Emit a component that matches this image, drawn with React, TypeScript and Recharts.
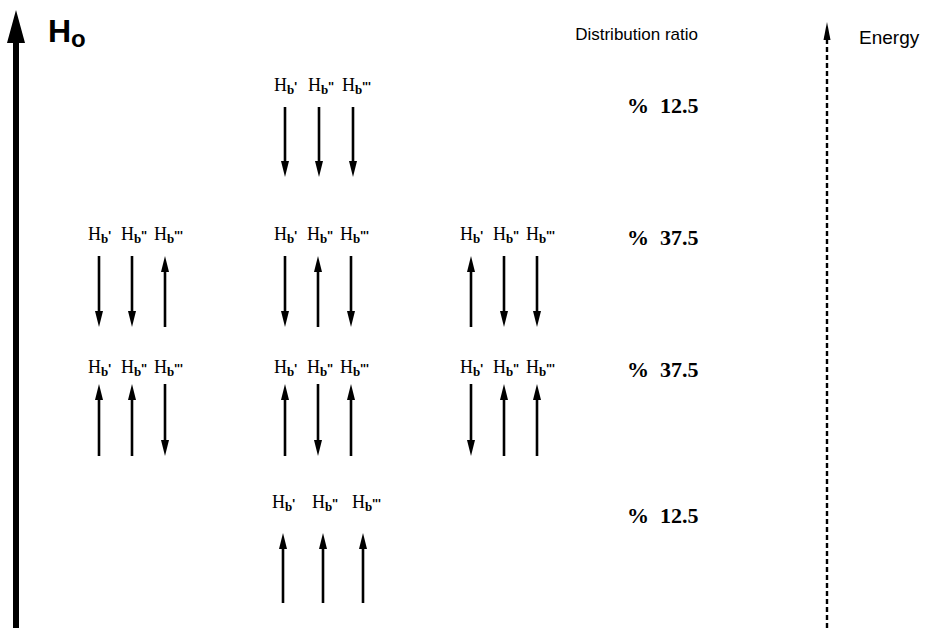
import { ComposedChart, XAxis, YAxis, Scatter, ReferenceLine } from "recharts";

const UP = 1;
const DOWN = -1;

// energy levels, highest first: spin states of H_b', H_b'', H_b''' for each configuration
const levelSpins: number[][][] = [
  [[DOWN, DOWN, DOWN]],
  [[DOWN, DOWN, UP], [DOWN, UP, DOWN], [UP, DOWN, DOWN]],
  [[UP, UP, DOWN], [UP, DOWN, UP], [DOWN, UP, UP]],
  [[UP, UP, UP]],
];
const levelGroups = [[1], [0, 1, 2], [0, 1, 2], [1]];
const ratios = ["% 12.5", "% 37.5", "% 37.5", "% 12.5"];

// diagram coordinates (x across, y down the energy axis)
const groupX = [99, 285, 471];
const levelStep = [34, 33, 33, 40];
const levelLabelY = [91, 240, 373, 508];
const levelTop = [107, 256, 384, 533];
const levelBottom = [177, 327, 456, 603];
const ratioY = [113, 245, 377, 523];
const spinNames = ["'", "''", "'''"];

const W = 931;
const H = 628;

type Arrow = { x: number; tail: number; tip: number };

const arrows: Arrow[] = [];
const hbLabels: { x: number; y: number; primes: string }[] = [];
levelSpins.forEach((configs, li) => {
  configs.forEach((spins, ci) => {
    const g = levelGroups[li][ci];
    const first = li === 3 ? groupX[g] - 2 : groupX[g];
    spins.forEach((s, si) => {
      const x = first + si * levelStep[li];
      arrows.push({
        x,
        tail: s === UP ? levelBottom[li] : levelTop[li],
        tip: s === UP ? levelTop[li] : levelBottom[li],
      });
      hbLabels.push({ x, y: levelLabelY[li], primes: spinNames[si] });
    });
  });
});

const ratioLabels = ratios.map((r, i) => ({ x: 627, y: ratioY[i], text: r }));

const arrowShape = (w: number, head: number, headW: number, dash?: string) => (props: any) => {
  const { x1, y1, x2, y2 } = props;
  const dir = Math.sign(y2 - y1);
  const baseY = y2 - dir * head;
  return (
    <g>
      <line x1={x1} y1={y1} x2={x2} y2={baseY} stroke="#000" strokeWidth={w} strokeDasharray={dash} />
      <polygon points={`${x2},${y2} ${x2 - headW / 2},${baseY} ${x2 + headW / 2},${baseY}`} fill="#000" />
    </g>
  );
};

const smallArrow = arrowShape(2.6, 16, 8);
const bigArrow = arrowShape(6, 33, 18);
const energyArrow = arrowShape(2.4, 18, 7, "5 3");

function HbLabel(props: any) {
  const { cx, cy, payload } = props;
  return (
    <text x={cx - 11} y={cy} fontFamily="'Liberation Serif', serif" fontSize={18} fill="#000">
      H
      <tspan fontFamily="'Liberation Serif', serif" fontWeight="bold" fontSize={13} dy={3}>
        b
      </tspan>
      <tspan fontFamily="'Liberation Sans', sans-serif" fontWeight="bold" fontSize={12} dy={-3}>
        {payload.primes}
      </tspan>
    </text>
  );
}

function RatioLabel(props: any) {
  const { cx, cy, payload } = props;
  return (
    <text x={cx} y={cy} fontFamily="'Liberation Serif', serif" fontWeight="bold" fontSize={22} fill="#000" style={{ whiteSpace: "pre" }}>
      {payload.text.replace(" ", "  ")}
    </text>
  );
}

function Header(props: any) {
  const { cx, cy, payload } = props;
  if (payload.kind === "ho") {
    return (
      <text x={cx} y={cy} fontFamily="'Liberation Sans', sans-serif" fontWeight="bold" fontSize={payload.size} fill="#000">
        H
        <tspan fontSize={24} dy={5}>o</tspan>
      </text>
    );
  }
  return (
    <text x={cx} y={cy} textAnchor={payload.anchor} fontFamily="'Liberation Sans', sans-serif" fontSize={payload.size} fill="#000">
      {payload.text}
    </text>
  );
}

const headers = [
  { x: 48, y: 42, kind: "ho", text: "Ho", anchor: "start", size: 32 },
  { x: 698, y: 40, kind: "text", text: "Distribution ratio", anchor: "end", size: 17 },
  { x: 859, y: 44, kind: "text", text: "Energy", anchor: "start", size: 19 },
];

export default function App() {
  return (
    <div style={{ position: "absolute", left: 0, top: 0, width: W, height: H, background: "#fff" }}>
      <ComposedChart width={W} height={H} margin={{ top: 0, right: 0, bottom: 0, left: 0 }}>
        <XAxis type="number" dataKey="x" domain={[0, W]} hide />
        <YAxis type="number" dataKey="y" domain={[0, H]} reversed hide />
        <ReferenceLine segment={[{ x: 16, y: H }, { x: 16, y: 10 }]} shape={bigArrow} />
        <ReferenceLine segment={[{ x: 827, y: H }, { x: 827, y: 22 }]} shape={energyArrow} />
        {arrows.map((a, i) => (
          <ReferenceLine key={i} segment={[{ x: a.x, y: a.tail }, { x: a.x, y: a.tip }]} shape={smallArrow} />
        ))}
        <Scatter data={hbLabels} shape={HbLabel} isAnimationActive={false} />
        <Scatter data={ratioLabels} shape={RatioLabel} isAnimationActive={false} />
        <Scatter data={headers} shape={Header} isAnimationActive={false} />
      </ComposedChart>
    </div>
  );
}
